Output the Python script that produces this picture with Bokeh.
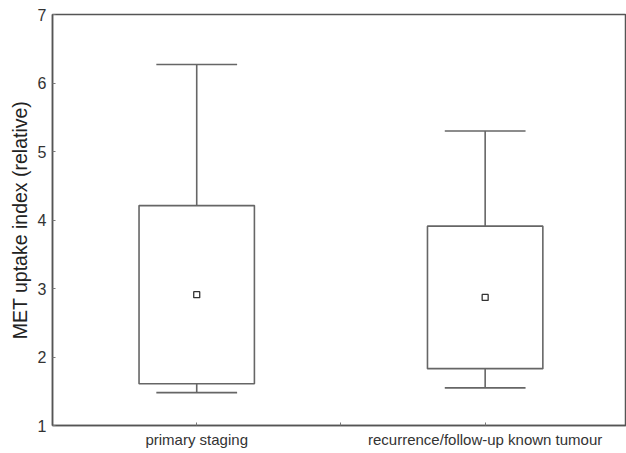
from bokeh.plotting import figure
from bokeh.models import Range1d, FixedTicker, ColumnDataSource
from bokeh.embed import file_html
from bokeh.resources import INLINE

categories = ["primary staging", "recurrence/follow-up known tumour"]
whisker_high = [6.27, 5.30]
q3 = [4.21, 3.91]
center_val = [2.91, 2.87]
q1 = [1.61, 1.83]
whisker_low = [1.48, 1.55]
y_ticks = [1, 2, 3, 4, 5, 6, 7]

xs = [i + 1 for i in range(len(categories))]
bw = 0.2
cw = 0.14
src = ColumnDataSource(dict(
    x=xs, left=[x - bw for x in xs], right=[x + bw for x in xs],
    cl=[x - cw for x in xs], cr=[x + cw for x in xs],
    hi=whisker_high, q3=q3, c=center_val, q1=q1, lo=whisker_low,
))

p = figure(width=626, height=452, output_backend="svg", toolbar_location=None,
           x_range=Range1d(0.5, 2.49), y_range=Range1d(1, 7),
           min_border_left=52, min_border_right=0, min_border_top=14, min_border_bottom=27)
p.grid.visible = False
p.background_fill_color = "white"
p.border_fill_color = "white"
p.outline_line_color = "#555555"
p.outline_line_width = 1.5

lc = "#666666"
lw = 1.6
p.segment(x0="x", y0="q3", x1="x", y1="hi", source=src, line_color=lc, line_width=lw)
p.segment(x0="x", y0="q1", x1="x", y1="lo", source=src, line_color=lc, line_width=lw)
p.segment(x0="cl", y0="hi", x1="cr", y1="hi", source=src, line_color=lc, line_width=lw)
p.segment(x0="cl", y0="lo", x1="cr", y1="lo", source=src, line_color=lc, line_width=lw)
p.quad(left="left", right="right", top="q3", bottom="q1", source=src,
       fill_color="white", line_color=lc, line_width=lw)
p.scatter(x="x", y="c", source=src, marker="square", size=6,
          fill_color="white", line_color="#333333", line_width=1.3)

p.xaxis.ticker = FixedTicker(ticks=[1, 1.5, 2])
p.xaxis.major_label_overrides = {1: categories[0], 1.5: "", 2: categories[1]}
p.yaxis.ticker = FixedTicker(ticks=y_ticks)
for ax in (p.xaxis[0], p.yaxis[0]):
    ax.axis_line_color = "#555555"
    ax.axis_line_width = 1.5
    ax.major_tick_in = 3
    ax.major_tick_out = 0
    ax.major_tick_line_color = "#777777"
    ax.minor_tick_line_color = None
    ax.major_label_text_font = "Liberation Sans"
    ax.major_label_text_color = "#333333"
    ax.axis_label_text_font = "Liberation Sans"
    ax.axis_label_text_font_style = "normal"
    ax.axis_label_text_color = "#222222"
p.xaxis.major_label_text_font_size = "15px"
p.xaxis.major_label_standoff = 5
p.yaxis.major_label_text_font_size = "16px"
p.yaxis.major_label_standoff = 6
p.yaxis.axis_label = "MET uptake index (relative)"
p.yaxis.axis_label_text_font_size = "19.5px"
p.yaxis.axis_label_standoff = 4

open("out.html", "w").write(file_html(p, INLINE))
